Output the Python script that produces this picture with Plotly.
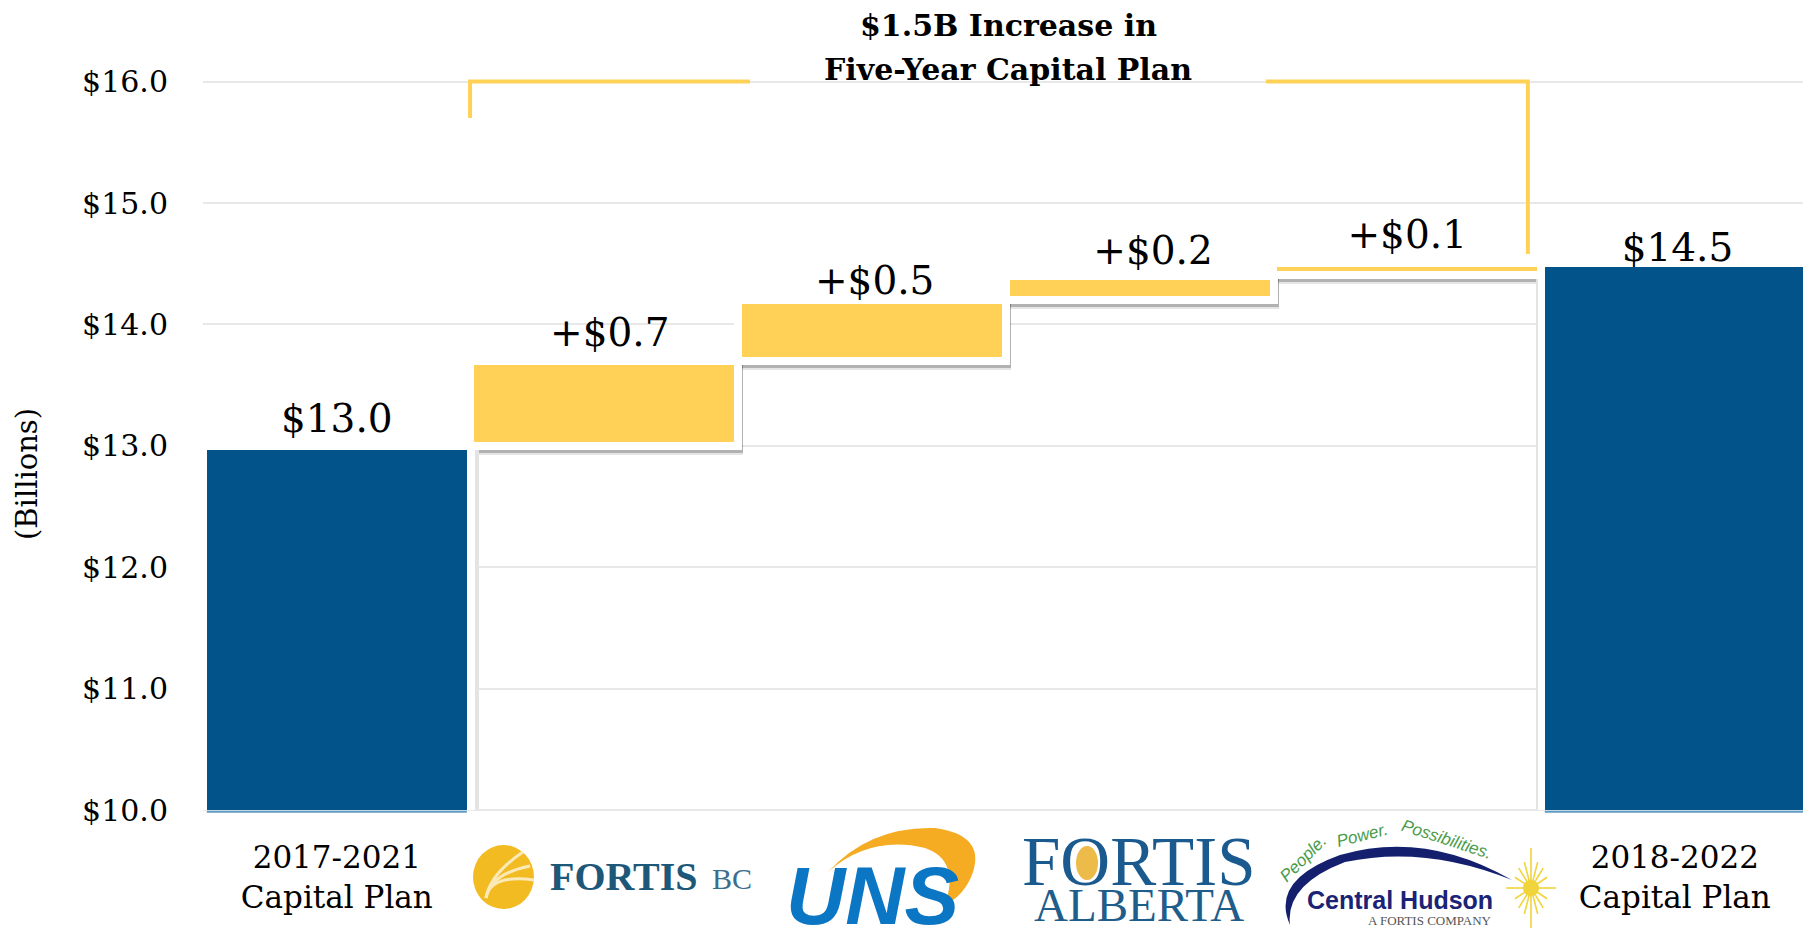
import math
import plotly.graph_objects as go

# ---------- data ----------
positions = [0, 1, 2, 3, 4, 5]
categories = ["2017-2021<br>Capital Plan", "", "", "", "", "2018-2022<br>Capital Plan"]
bar_bases = [10.0, 13.03, 13.73, 14.235, 14.44, 10.0]
bar_tops = [12.966, 13.665, 14.17, 14.366, 14.47, 14.47]
bar_labels = ["$13.0", "+$0.7", "+$0.5", "+$0.2", "+$0.1", "$14.5"]
label_y = [13.19, 13.90, 14.33, 14.58, 14.71, 14.60]
y_ticks = [10, 11, 12, 13, 14, 15, 16]
y_tick_text = ["$10.0", "$11.0", "$12.0", "$13.0", "$14.0", "$15.0", "$16.0"]
bracket_left_x = [0.498, 0.498, 1.544]
bracket_left_y = [15.70, 16.0, 16.0]
bracket_right_x = [3.472, 4.451, 4.451]
bracket_right_y = [16.0, 16.0, 14.58]
title_lines = ["$1.5B Increase in", "Five-Year Capital Plan"]

BLUE = "#02538A"
YELLOW = "#FFD257"
SERIF = "DejaVu Serif, Liberation Serif, serif"
W, H = 1803, 930
LEFT, BOTTOM_PX = 203, 820
PX_X = 267.6
PX_Y = 121.4
BAR_W = 260 / PX_X

fig = go.Figure()


def layer(idx, pad_l, pad_r, pad_t, pad_b, color, dx=0, dy=0):
    xs, widths, bases, heights = [], [], [], []
    for i in idx:
        xs.append(positions[i] + (pad_r - pad_l + 2 * dx) / 2 / PX_X)
        widths.append(BAR_W + (pad_l + pad_r) / PX_X)
        bases.append(bar_bases[i] - (pad_b + dy) / PX_Y)
        heights.append(bar_tops[i] - bar_bases[i] + (pad_t + pad_b) / PX_Y)
    fig.add_trace(go.Bar(x=xs, y=heights, base=bases, width=widths,
                         marker=dict(color=color, line=dict(width=0)),
                         hoverinfo="skip", showlegend=False))


steps = [1, 2, 3, 4]
# soft drop shadow under the floating steps
layer(steps, 8, 8, 8, 8, "rgba(0,0,0,0.10)", dx=1, dy=5)
layer(steps, 8, 8, 8, 8, "rgba(0,0,0,0.22)", dx=1, dy=3)
# pale shadow beside the two full bars
layer([0], 0, 12, 8, 0, "#e4e4e4")
layer([5], 9, 0, 8, 0, "#e4e4e4")
layer([0], 4, 8, 8, 0, "white")
layer([5], 7, 0, 8, 0, "white")
layer(steps, 8, 8, 8, 8, "white")
# the bars
fig.add_trace(go.Bar(x=[positions[i] for i in (0, 5)],
                     y=[bar_tops[i] - bar_bases[i] for i in (0, 5)],
                     base=[bar_bases[i] for i in (0, 5)], width=BAR_W,
                     marker=dict(color=BLUE, line=dict(width=0)), showlegend=False))
fig.add_trace(go.Bar(x=[positions[i] for i in steps],
                     y=[bar_tops[i] - bar_bases[i] for i in steps],
                     base=[bar_bases[i] for i in steps], width=BAR_W,
                     marker=dict(color=YELLOW, line=dict(width=0)), showlegend=False))
# thin underline of the full bars
fig.add_trace(go.Scatter(x=[-0.486, 0.486], y=[9.985, 9.985], mode="lines",
                         line=dict(color="#5f9cc4", width=2), showlegend=False, hoverinfo="skip"))
fig.add_trace(go.Scatter(x=[4.514, 5.486], y=[9.985, 9.985], mode="lines",
                         line=dict(color="#5f9cc4", width=2), showlegend=False, hoverinfo="skip"))
# bracket
fig.add_trace(go.Scatter(x=bracket_left_x, y=bracket_left_y, mode="lines",
                         line=dict(color=YELLOW, width=4), showlegend=False, hoverinfo="skip"))
fig.add_trace(go.Scatter(x=bracket_right_x, y=bracket_right_y, mode="lines",
                         line=dict(color=YELLOW, width=4), showlegend=False, hoverinfo="skip"))
# value labels
fig.add_trace(go.Scatter(x=[0, 1.02, 2.01, 3.05, 4.0, 5.01], y=label_y, mode="text",
                         text=bar_labels, textposition="middle center",
                         textfont=dict(family=SERIF, size=39, color="#000"),
                         showlegend=False, hoverinfo="skip"))


# ---------- helpers for logos and free text, in page pixels ----------
def fx(px):
    return (px - LEFT) / (W - LEFT)


def fy(py):
    return (BOTTOM_PX - py) / BOTTOM_PX


annotations = []
shapes = []


def text(px, py, s, size, color="#000", family=SERIF, angle=0, bold=False, italic=False, xanchor="center"):
    if bold:
        s = "<b>" + s + "</b>"
    if italic:
        s = "<i>" + s + "</i>"
    annotations.append(dict(xref="paper", yref="paper", x=fx(px), y=fy(py), text=s, showarrow=False,
                            xanchor=xanchor, yanchor="middle", textangle=angle,
                            font=dict(family=family, size=size, color=color)))


def path(points, fill=None, line=None, width=0):
    d = ""
    for cmd, *pts in points:
        d += cmd + " ".join(f"{fx(pts[i]):.5f},{fy(pts[i + 1]):.5f}" for i in range(0, len(pts), 2)) + " "
    shapes.append(dict(type="path", xref="paper", yref="paper", path=d.strip(),
                       fillcolor=fill or "rgba(0,0,0,0)",
                       line=dict(color=line or "rgba(0,0,0,0)", width=width), layer="above"))


# chart heading and axis title
text(1008, 25, title_lines[0], 30, bold=True)
text(1008, 70, title_lines[1], 30, bold=True)
text(27, 474, "(Billions)", 29, angle=-90)

# FortisBC logo
shapes.append(dict(type="circle", xref="paper", yref="paper", x0=fx(473), x1=fx(534), y0=fy(845), y1=fy(909),
                   fillcolor="#F3BB22", line=dict(width=0), layer="above"))
for a, b in ((523, 852), (530, 866), (534, 880)):
    path([("M", 486, 898), ("Q", 490, 874, a, b)], line="#FBE9B8", width=3)
text(548, 876, "FORTIS", 40, color="#1E5878", family="Liberation Serif", bold=True, xanchor="left")
text(710, 878, "BC", 30, color="#3B6E8C", family="Liberation Serif", xanchor="left")

# UNS logo
path([("M", 828, 872), ("Q", 870, 826, 935, 828), ("Q", 985, 835, 973, 872), ("Q", 965, 895, 945, 905),
      ("Q", 960, 860, 925, 848), ("Q", 870, 835, 828, 872), ("Z",)], fill="#F5AC22")
text(872, 895, "UNS", 82, color="#0B76C3", family="Liberation Sans", bold=True, italic=True)

# FortisAlberta logo
text(1139, 862, "FORTIS", 69, color="#1A5A8E", family="Liberation Serif")
text(1139, 905, "ALBERTA", 47, color="#1F5D8A", family="Liberation Serif")
shapes.append(dict(type="circle", xref="paper", yref="paper", x0=fx(1076), x1=fx(1098), y0=fy(846), y1=fy(880),
                   fillcolor="#EDBB4A", line=dict(width=0), layer="above"))

# Central Hudson logo
path([("M", 1290, 925), ("Q", 1270, 880, 1340, 855), ("Q", 1425, 830, 1512, 880),
      ("Q", 1425, 845, 1345, 862), ("Q", 1285, 885, 1290, 925), ("Z",)], fill="#14206E")
text(1303, 858, "People.", 17, color="#4A9C4A", family="Liberation Sans", italic=True, angle=-45)
text(1362, 835, "Power.", 17, color="#4A9C4A", family="Liberation Sans", italic=True, angle=-14)
text(1447, 839, "Possibilities.", 17, color="#4A9C4A", family="Liberation Sans", italic=True, angle=18)
text(1400, 900, "Central Hudson", 25, color="#1A2375", family="Liberation Sans", bold=True)
text(1430, 921, "A FORTIS COMPANY", 13, color="#555", family="Liberation Serif")
cx, cy = 1531, 888
for k in range(16):
    ang = k * math.pi / 8
    r = 40 if k % 4 == 0 else 28
    path([("M", cx, cy), ("L", cx + r * 0.62 * math.cos(ang), cy + r * math.sin(ang))], line="#F1D33A", width=1.6)
shapes.append(dict(type="circle", xref="paper", yref="paper", x0=fx(cx - 8), x1=fx(cx + 8), y0=fy(cy - 8), y1=fy(cy + 8),
                   fillcolor="#F1D33A", line=dict(width=0), layer="above"))

fig.update_layout(
    width=W, height=H, autosize=False,
    margin=dict(l=LEFT, r=0, t=0, b=H - BOTTOM_PX, pad=0),
    paper_bgcolor="white", plot_bgcolor="white",
    barmode="overlay", bargap=0,
    xaxis=dict(range=[-0.5, (W - 336.8) / PX_X], tickmode="array", tickvals=positions, ticktext=categories,
               showgrid=False, zeroline=False, showline=False, ticks="", ticklabelstandoff=16,
               tickfont=dict(family=SERIF, size=31, color="#000")),
    yaxis=dict(range=[10 - 10 / PX_Y, 10 + 810 / PX_Y], tickmode="array", tickvals=y_ticks,
               ticktext=y_tick_text,
               showgrid=True, gridcolor="#e8e8e8", gridwidth=2, zeroline=False, showline=False, ticks="",
               ticklabelstandoff=34, tickfont=dict(family=SERIF, size=30, color="#000")),
    annotations=annotations, shapes=shapes,
)

fig.write_html("out.html", config=dict(displayModeBar=False),
               post_script="document.body.style.margin='0';document.body.style.overflow='hidden';")
